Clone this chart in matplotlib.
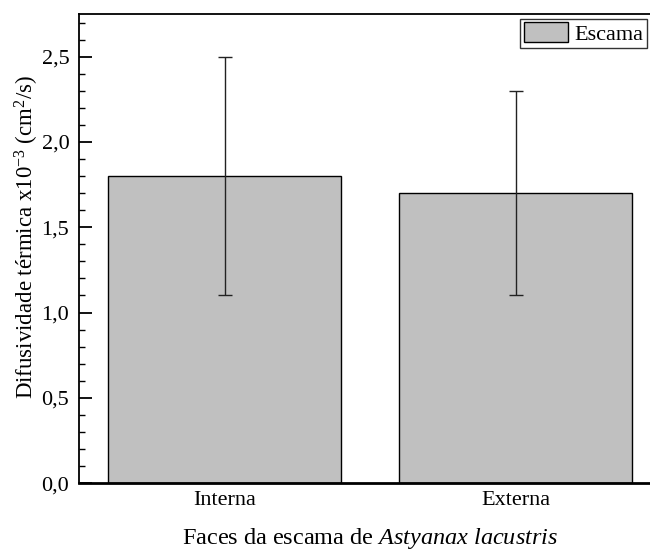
import numpy as np
import matplotlib.pyplot as plt
from matplotlib.ticker import MultipleLocator, FuncFormatter

plt.rcParams['font.family'] = ['Liberation Serif', 'DejaVu Serif']
plt.rcParams['mathtext.fontset'] = 'custom'
plt.rcParams['mathtext.rm'] = 'Liberation Serif'
plt.rcParams['mathtext.it'] = 'Liberation Serif:italic'

faces = ['Interna', 'Externa']
difusividade = [1.8, 1.7]
erro = [0.7, 0.6]

fig = plt.figure(figsize=(6.5, 5.54), dpi=100)
ax = fig.add_axes([0.1215, 0.128, 0.896, 0.8466])

x = np.arange(1, len(faces) + 1)
ax.bar(x, difusividade, width=0.8, color='#c0c0c0', edgecolor='black',
       linewidth=1, label='Escama', zorder=2)
ax.errorbar(x, difusividade, yerr=erro, fmt='none', ecolor='#222222',
            elinewidth=1, capsize=5, capthick=1, zorder=3)

ax.set_xlim(0.5, 2.5)
ax.set_ylim(0, 2.75)
ax.set_xticks(x)
ax.set_xticklabels(faces)
ax.yaxis.set_major_locator(MultipleLocator(0.5))
ax.yaxis.set_minor_locator(MultipleLocator(0.1))
ax.yaxis.set_major_formatter(FuncFormatter(lambda v, p: f'{v:.1f}'.replace('.', ',')))
ax.tick_params(axis='y', which='major', direction='in', length=9, width=1.3,
               labelsize=16, pad=7)
ax.tick_params(axis='y', which='minor', direction='in', length=4, width=1)
ax.tick_params(axis='x', length=0, labelsize=16, pad=6)

for s in ['left', 'top']:
    ax.spines[s].set_linewidth(1.3)
ax.spines['bottom'].set_linewidth(2)
ax.spines['right'].set_visible(False)

ax.set_ylabel('Difusividade térmica x10$^{-3}$ (cm$^{2}$/s)', fontsize=16.5)
ax.yaxis.set_label_coords(-0.066, 0.525)
ax.set_xlabel('Faces da escama de $\\it{Astyanax\\ lacustris}$', fontsize=17.5, labelpad=11)

leg = ax.legend(loc='upper right', bbox_to_anchor=(0.9755, 0.99), fontsize=16,
                frameon=True, fancybox=False, edgecolor='black', handlelength=2.0,
                handleheight=1.0, borderpad=0.15, handletextpad=0.3,
                borderaxespad=0.0)
leg.get_frame().set_linewidth(1)

fig.savefig('out.png', dpi=100)
